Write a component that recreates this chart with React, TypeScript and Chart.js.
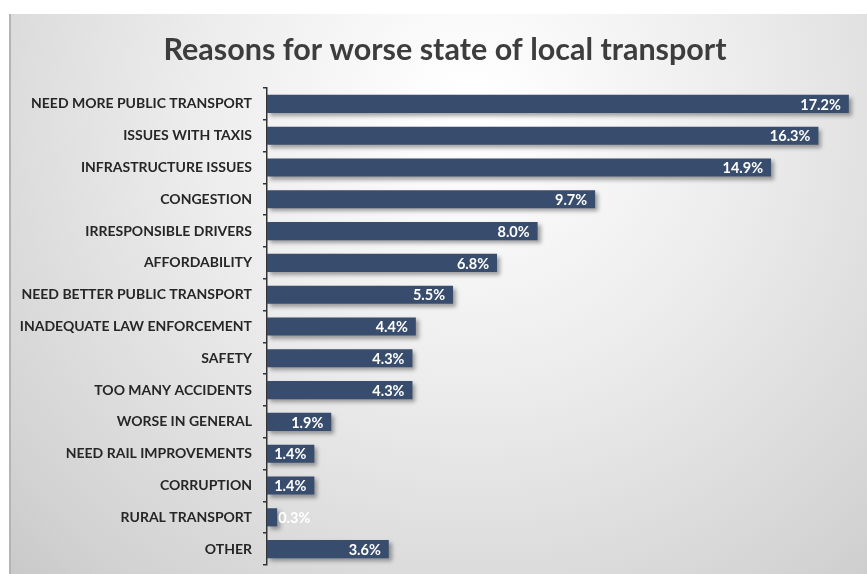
import React, { useEffect, useRef } from "react";
import { Chart, registerables } from "chart.js";

Chart.register(...registerables);

const title = "Reasons for worse state of local transport";
const categories = [
  "NEED MORE PUBLIC TRANSPORT",
  "ISSUES WITH TAXIS",
  "INFRASTRUCTURE ISSUES",
  "CONGESTION",
  "IRRESPONSIBLE DRIVERS",
  "AFFORDABILITY",
  "NEED BETTER PUBLIC TRANSPORT",
  "INADEQUATE LAW ENFORCEMENT",
  "SAFETY",
  "TOO MANY ACCIDENTS",
  "WORSE IN GENERAL",
  "NEED RAIL IMPROVEMENTS",
  "CORRUPTION",
  "RURAL TRANSPORT",
  "OTHER",
];
const values = [17.2, 16.3, 14.9, 9.7, 8.0, 6.8, 5.5, 4.4, 4.3, 4.3, 1.9, 1.4, 1.4, 0.3, 3.6];

const W = 867;
const H = 574;
const BAR_COLOR = "#384d6d";
const LABEL_FONT = "Lato";

const bgPlugin = {
  id: "bg",
  beforeDraw(chart: any) {
    const ctx = chart.ctx;
    ctx.save();
    ctx.fillStyle = "#ffffff";
    ctx.fillRect(0, 0, W, H);
    const g = ctx.createRadialGradient(470, 110, 20, 470, 110, 760);
    g.addColorStop(0, "#ffffff");
    g.addColorStop(0.35, "#ececec");
    g.addColorStop(0.75, "#d2d2d2");
    g.addColorStop(1, "#bdbdbd");
    ctx.fillStyle = g;
    ctx.fillRect(9, 14, W - 9, H - 14);
    ctx.fillStyle = "#b4b4b4";
    ctx.fillRect(9, 14, 2, H - 14);
    // title
    ctx.fillStyle = "#3d3d3d";
    ctx.font = `bold 30.5px ${LABEL_FONT}`;
    ctx.textAlign = "center";
    ctx.textBaseline = "alphabetic";
    ctx.fillText(title, 445, 60);
    ctx.restore();
  },
};

const shadowLabelPlugin = {
  id: "shadowLabels",
  beforeDatasetsDraw(chart: any) {
    const ctx = chart.ctx;
    ctx.save();
    ctx.shadowColor = "rgba(0,0,0,0.35)";
    ctx.shadowBlur = 4;
    ctx.shadowOffsetX = 3;
    ctx.shadowOffsetY = 3;
  },
  afterDatasetsDraw(chart: any) {
    const ctx = chart.ctx;
    ctx.restore();
    const meta = chart.getDatasetMeta(0);
    ctx.save();
    ctx.font = `bold 14.5px ${LABEL_FONT}`;
    ctx.textBaseline = "middle";
    meta.data.forEach((bar: any, i: number) => {
      const txt = values[i].toFixed(1) + "%";
      const tw = ctx.measureText(txt).width;
      const len = bar.x - bar.base;
      ctx.fillStyle = "#ffffff";
      if (len > tw + 14) {
        ctx.textAlign = "right";
        ctx.fillText(txt, bar.x - 8, bar.y + 1);
      } else {
        ctx.textAlign = "left";
        ctx.fillText(txt, bar.x + 1, bar.y + 1);
      }
    });
    ctx.restore();
  },
};

export default function App() {
  const ref = useRef<HTMLCanvasElement>(null);
  useEffect(() => {
    const chart = new Chart(ref.current!, {
      type: "bar",
      data: {
        labels: categories,
        datasets: [
          {
            data: values,
            backgroundColor: BAR_COLOR,
            borderWidth: 0,
            barPercentage: 0.57,
            categoryPercentage: 1,
          },
        ],
      },
      options: {
        indexAxis: "y",
        animation: false,
        responsive: false,
        maintainAspectRatio: false,
        events: [],
        layout: { padding: { left: 0, right: 8, top: 88, bottom: 9 } },
        plugins: {
          legend: { display: false },
          title: { display: false },
          tooltip: { enabled: false },
        },
        scales: {
          x: {
            display: false,
            min: 0,
            max: 17.5,
          },
          y: {
            afterFit(scale: any) {
              scale.width = 267;
              scale.paddingTop = 0;
              scale.paddingBottom = 0;
            },
            grid: {
              offset: true,
              drawOnChartArea: false,
              drawTicks: true,
              tickLength: 4,
              color: "#333333",
              lineWidth: 1.5,
            },
            border: { display: true, color: "#333333", width: 1.5 },
            ticks: {
              padding: 11,
              color: "#262626",
              font: { family: LABEL_FONT, weight: "bold", size: 14 },
            },
          },
        },
      },
      plugins: [bgPlugin, shadowLabelPlugin],
    });
    return () => chart.destroy();
  }, []);
  return (
    <div style={{ position: "fixed", left: 0, top: 0, width: W, height: H }}>
      <canvas ref={ref} width={W} height={H} style={{ display: "block", width: W, height: H }} />
    </div>
  );
}
